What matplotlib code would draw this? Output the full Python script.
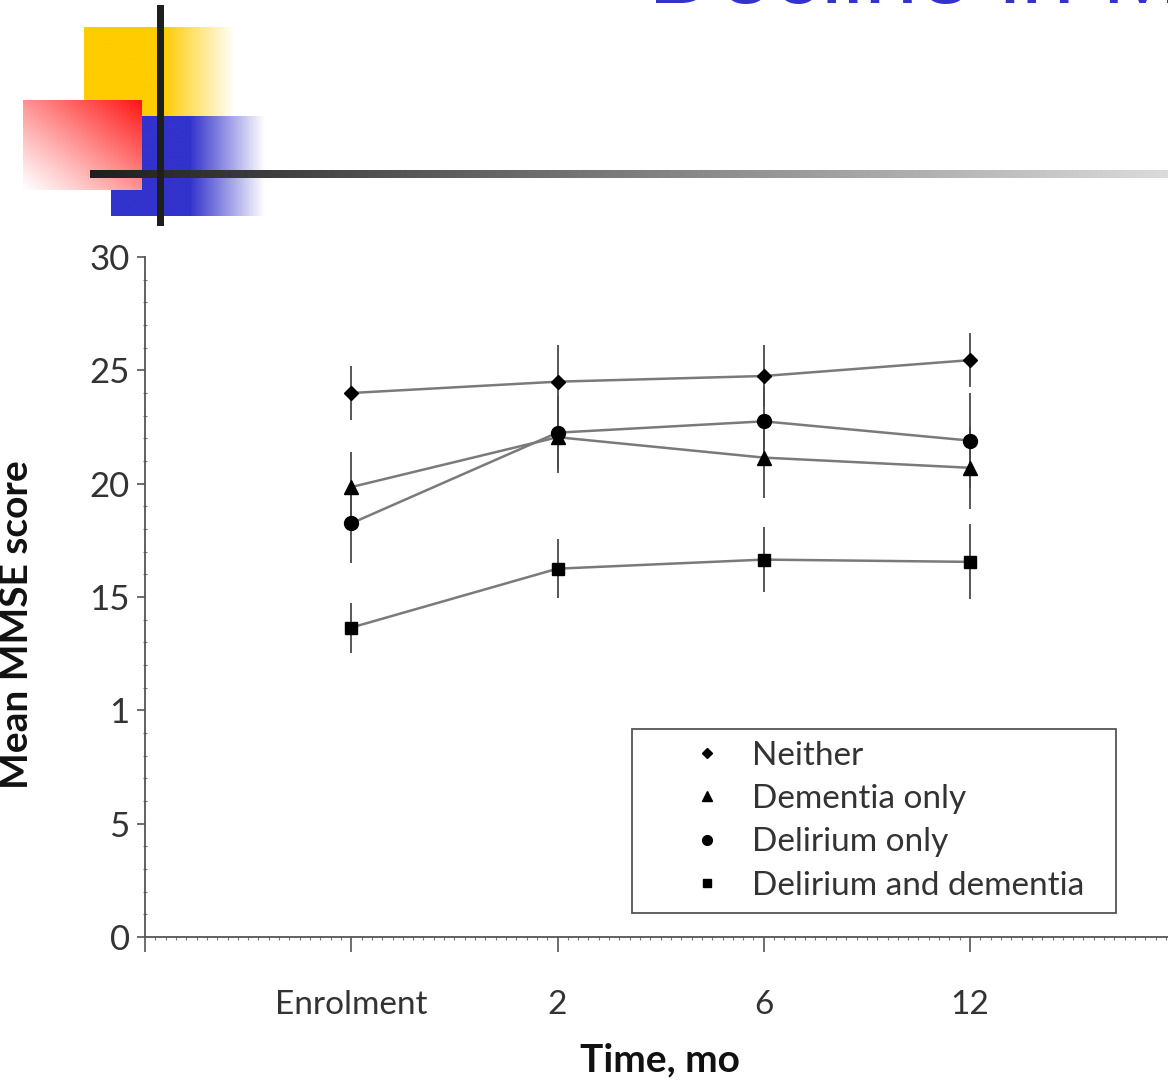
import numpy as np
import matplotlib
matplotlib.use("Agg")
import matplotlib.pyplot as plt
from matplotlib.lines import Line2D
from matplotlib.ticker import MultipleLocator

# ---------------- data ----------------
time_labels = ["", "Enrolment", "2", "6", "12"]
x_pos = [1, 2, 3, 4]
y_ticks = [0, 5, 10, 15, 20, 25, 30]
y_tick_labels = ["0", "5", "1", "15", "20", "25", "30"]

groups = ["Neither", "Dementia only", "Delirium only", "Delirium and dementia"]
neither = [24.0, 24.5, 24.75, 25.45]
neither_err = [1.2, 1.6, 1.35, 1.2]
dementia = [19.85, 22.05, 21.15, 20.7]
dementia_err = [1.55, 1.6, 1.8, 1.8]
delirium = [18.25, 22.25, 22.75, 21.9]
delirium_err = [1.75, 1.6, 1.5, 2.1]
both = [13.65, 16.25, 16.65, 16.55]
both_err = [1.1, 1.3, 1.45, 1.65]

title_text = "Decline in MMSE"

# ---------------- figure ----------------
W, H = 1168, 1083
fig = plt.figure(figsize=(W / 100, H / 100), dpi=100)
fig.patch.set_facecolor("white")

# decorative slide background
bg = fig.add_axes([0, 0, 1, 1], zorder=0)
bg.set_xlim(0, W)
bg.set_ylim(H, 0)
bg.axis("off")

def hgrad(rgb, x0, x1, y0, y1, solid_to, n=300):
    xs = np.linspace(x0, x1, n)
    a = np.clip((x1 - xs) / (x1 - solid_to), 0, 1)
    img = np.ones((1, n, 3))
    for k in range(3):
        img[0, :, k] = 1 - a * (1 - rgb[k])
    bg.imshow(img, extent=[x0, x1, y1, y0], aspect="auto", interpolation="bilinear")

# yellow block
hgrad((1.0, 0.8, 0.0), 84, 235, 27, 116, 163)
# blue block
hgrad((0.2, 0.2, 0.8), 111, 265, 116, 216, 190)
# red gradient block (opaque, red at top-right fading to white bottom-left)
n = 200
u = np.linspace(0, 1, n)[None, :]
v = np.linspace(0, 1, n)[:, None]
t = np.clip((u + (1 - v)) / 2, 0, 1) ** 1.1
red = np.ones((n, n, 3))
red[..., 0] = 1.0
red[..., 1] = 1 - t * 0.92
red[..., 2] = 1 - t * 0.92
bg.imshow(red, extent=[23, 142, 190, 100], aspect="auto", interpolation="bilinear")
# horizontal gradient line
m = 400
g = np.linspace(0.12, 0.86, m)
hl = np.zeros((1, m, 3))
hl[0, :, 0] = g
hl[0, :, 1] = g
hl[0, :, 2] = g
bg.imshow(hl, extent=[90, W, 178, 170], aspect="auto", interpolation="bilinear")
# vertical black line
bg.add_patch(plt.Rectangle((157, 5), 7, 221, color="#1e1e1e", lw=0))
# legend frame
bg.add_patch(plt.Rectangle((632, 729), 484, 184, fill=False,
                           edgecolor="#555555", lw=1.3, zorder=5))
bg.set_xlim(0, W)
bg.set_ylim(H, 0)

# title (cut off at top of slide, as in the original)
fig.text(648 / W, 1 - 3 / H, title_text, fontsize=70, color="#3333CC",
         ha="left", va="baseline", family="Liberation Sans")

# ---------------- chart ----------------
ax = fig.add_axes([145 / W, 1 - 937 / H, (W - 145) / W, 680 / H], zorder=1)
ax.set_facecolor("none")

series = [neither, dementia, delirium, both]
errs = [neither_err, dementia_err, delirium_err, both_err]
markers = ["D", "^", "o", "s"]
msizes = [7, 10, 10, 8.5]
for vals, err, mk, ms in zip(series, errs, markers, msizes):
    ax.errorbar(x_pos, vals, yerr=err, fmt="none", ecolor="#4a4a4a",
                elinewidth=1.3, capsize=0, zorder=2)
    ax.plot(x_pos, vals, color="#7a7a7a", lw=1.8, zorder=3)
    ax.plot(x_pos, vals, linestyle="none", marker=mk, ms=ms,
            color="black", zorder=4)

ax.set_xlim(0, (W - 145) / 206.25)
ax.set_ylim(0, 30)
for s in ["top", "right"]:
    ax.spines[s].set_visible(False)
for s in ["left", "bottom"]:
    ax.spines[s].set_color("#555555")
    ax.spines[s].set_linewidth(1.3)

ax.set_xticks([0] + x_pos)
ax.set_xticklabels(time_labels)
ax.set_yticks(y_ticks)
ax.set_yticklabels(y_tick_labels)
ax.yaxis.set_minor_locator(MultipleLocator(1))
ax.xaxis.set_minor_locator(MultipleLocator(0.05))
ax.tick_params(axis="x", which="major", direction="out", length=11, width=1.2,
               color="#555555", pad=27, labelsize=24, labelcolor="#333333")
ax.tick_params(axis="x", which="minor", direction="out", length=2, width=0.8,
               color="#777777")
ax.tick_params(axis="y", which="major", direction="out", length=6, width=1.2,
               color="#555555", pad=5, labelsize=25, labelcolor="#333333")
ax.tick_params(axis="y", which="minor", direction="inout", length=3, width=0.8,
               color="#777777")
for lab in ax.get_xticklabels() + ax.get_yticklabels():
    lab.set_family("Lato")

fig.text(17 / W, 1 - 625 / H, "Mean MMSE score", rotation=90, ha="center",
         va="center", fontsize=28, fontweight="bold", color="#111111", family="Lato")
fig.text(660 / W, 1 - 1060 / H, "Time, mo", ha="center", va="center",
         fontsize=28, fontweight="bold", color="#111111", family="Lato")

handles = [Line2D([], [], linestyle="none", marker=mk, ms=ms * 0.7, color="black")
           for mk, ms in zip(markers, msizes)]
leg = ax.legend(handles, groups, loc="upper left",
                bbox_to_anchor=(632 / W, 1 - 729 / H),
                bbox_transform=fig.transFigure, borderaxespad=0,
                prop={"family": "Lato", "size": 24}, labelcolor="#333333",
                frameon=False,
                borderpad=0.35, handlelength=3.8, handletextpad=-0.55,
                labelspacing=0.4, numpoints=1)

fig.savefig("out.png", dpi=100, facecolor="white")
